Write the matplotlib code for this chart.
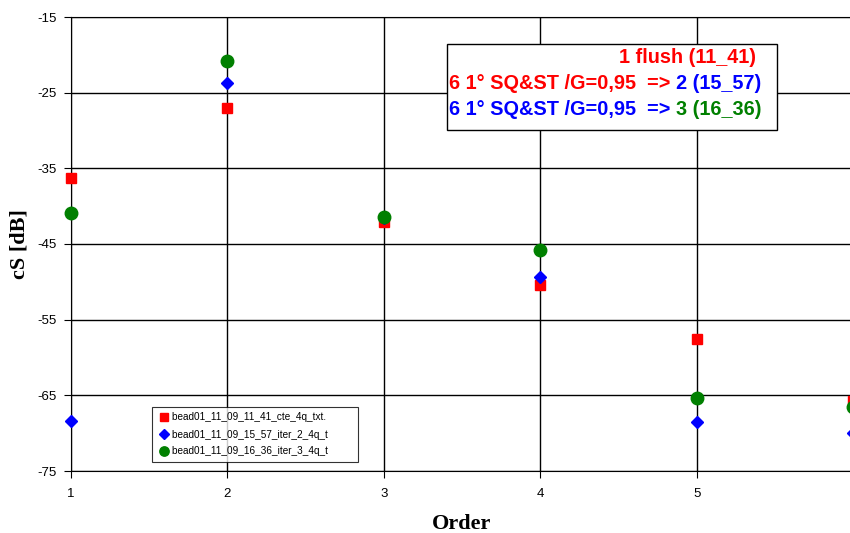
import matplotlib.pyplot as plt
from matplotlib.offsetbox import AnchoredOffsetbox, HPacker, TextArea, VPacker
from matplotlib.patches import Rectangle

order = [1, 2, 3, 4, 5, 6]
cs_flush = [-36.3, -27.0, -42.1, -50.4, -57.5, -65.7]
cs_iter2 = [-68.4, -23.7, -41.6, -49.3, -68.5, -70.0]
cs_iter3 = [-40.9, -20.8, -41.4, -45.8, -65.3, -66.6]
labels = [
    "bead01_11_09_11_41_cte_4q_txt.",
    "bead01_11_09_15_57_iter_2_4q_t",
    "bead01_11_09_16_36_iter_3_4q_t",
]
y_ticks = [-15, -25, -35, -45, -55, -65, -75]
x_ticks = [1, 2, 3, 4, 5]

plt.rcParams["font.family"] = ["Liberation Sans", "DejaVu Sans"]
plt.rcParams["axes.unicode_minus"] = False

W, H = 850, 533
fig = plt.figure(figsize=(W / 100, H / 100), dpi=100)
ax = fig.add_axes([71 / W, 1 - 471 / H, (853 - 71) / W, (471 - 17) / H])

ax.plot(order, cs_flush, "s", color="#ff0000", ms=7, label=labels[0], clip_on=False, zorder=3)
ax.plot(order, cs_iter2, "D", color="#0000ff", ms=6.5, label=labels[1], clip_on=False, zorder=4)
ax.plot(order, cs_iter3, "o", color="#008000", ms=9, label=labels[2], clip_on=False, zorder=5)

ax.set_xlim(1, 6)
ax.set_ylim(-75, -15)
ax.set_xticks(x_ticks)
ax.set_yticks(y_ticks)
ax.grid(True, color="black", lw=1)
ax.set_axisbelow(True)
ax.tick_params(labelsize=9.5, length=5, color="black", pad=5)
ax.tick_params(axis="x", pad=7)
for s in ax.spines.values():
    s.set_color("black")

ax.set_xlabel("Order", family="Liberation Serif", fontweight="bold", fontsize=16, labelpad=10.5)
ax.set_ylabel("cS [dB]", family="Liberation Serif", fontweight="bold", fontsize=16, labelpad=6)

# trailing blanks widen the frame on the right like the Excel legend
leg = ax.legend([l + "         " for l in labels],
                loc="lower left", bbox_to_anchor=((152 - 71) / 782, (471 - 462) / 454),
                fontsize=7.2, frameon=True, fancybox=False, edgecolor="black",
                handletextpad=0.1, handlelength=1.3, borderpad=0.55, labelspacing=0.7,
                markerscale=0.75, borderaxespad=0)
leg.get_frame().set_linewidth(0.8)

# annotation box with multi-coloured lines
fig.patches.append(Rectangle((447 / W, 1 - 130 / H), 330 / W, 86 / H,
                             transform=fig.transFigure, facecolor="white",
                             edgecolor="black", lw=1, zorder=10))


def part(s, c):
    return TextArea(s, textprops=dict(color=c, fontweight="bold", fontsize=14.3))


row1 = HPacker(children=[part("1 flush (11_41)", "#ff0000"), part(" ", "white")], pad=0, sep=0)
row2 = HPacker(children=[part("6 1° SQ&ST /G=0,95  => ", "#ff0000"),
                         part("2 (15_57)", "#0000ff")], pad=0, sep=0)
row3 = HPacker(children=[part("6 1° SQ&ST /G=0,95  => ", "#0000ff"),
                         part("3 (16_36)", "#008000")], pad=0, sep=0)
box = VPacker(children=[row1, row2, row3], align="right", pad=0, sep=5)
anchored = AnchoredOffsetbox(loc="upper left", child=box, pad=0, borderpad=0,
                             bbox_to_anchor=(449 / W, 1 - 48 / H),
                             bbox_transform=fig.transFigure, frameon=False)
anchored.set_zorder(11)
fig.artists.append(anchored)
anchored.set_figure(fig)

fig.savefig("out.png", dpi=100)
